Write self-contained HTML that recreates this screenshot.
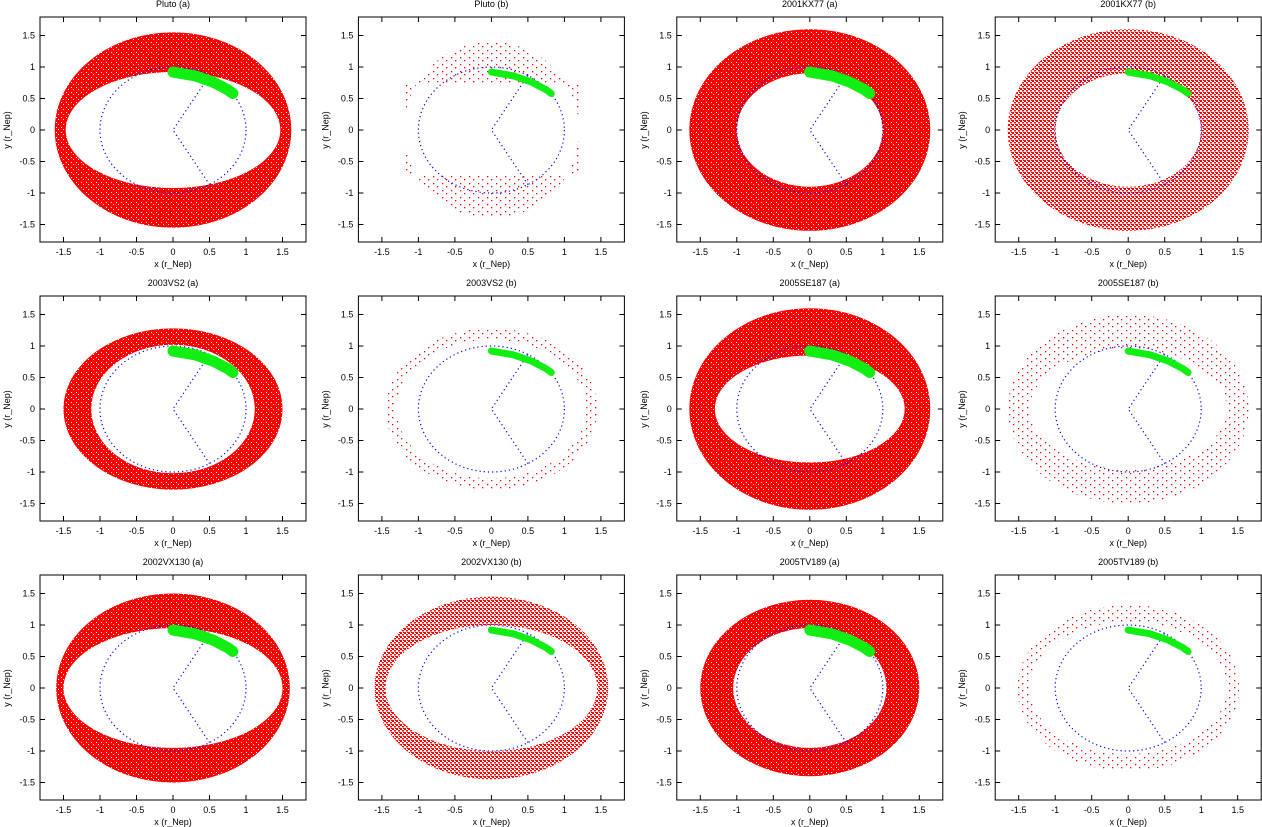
<!DOCTYPE html>
<html><head><meta charset="utf-8">
<style>
html,body{margin:0;padding:0;background:#fff;}
svg{display:block;font-family:"Liberation Sans",sans-serif;}
</style></head>
<body>
<svg id="chart" width="1262" height="827" viewBox="0 0 1262 827" xmlns="http://www.w3.org/2000/svg">
<defs>
<pattern id="sparse" width="9" height="7" patternUnits="userSpaceOnUse">
<rect x="1" y="1" width="1.3" height="1.3" fill="#f00"/><rect x="5" y="4" width="1.3" height="1.3" fill="#f00"/>
</pattern>
<pattern id="medium" width="4" height="4" patternUnits="userSpaceOnUse">
<rect x="0" y="0" width="2" height="2" fill="#f00"/><rect x="2" y="2" width="2" height="1.5" fill="#f00"/><rect x="3" y="0" width="1" height="1" fill="#f00"/>
</pattern>
<pattern id="dense" width="5" height="5" patternUnits="userSpaceOnUse">
<rect x="0" y="0" width="5" height="5" fill="#f00"/><rect x="1" y="2" width="1" height="1" fill="#fff"/><rect x="3" y="4" width="1" height="1" fill="#fff"/>
</pattern>
</defs>
</svg>
<script>
const titles=["Pluto (a)","Pluto (b)","2001KX77 (a)","2001KX77 (b)","2003VS2 (a)","2003VS2 (b)","2005SE187 (a)","2005SE187 (b)","2002VX130 (a)","2002VX130 (b)","2005TV189 (a)","2005TV189 (b)"];
const outerRx=[1.62,1.2,1.65,1.65,1.5,1.45,1.65,1.65,1.6,1.6,1.5,1.52];
const outerRy=[1.55,1.4,1.6,1.6,1.28,1.28,1.6,1.5,1.5,1.45,1.4,1.32];
const innerRx=[1.47,0.0,1.0,1.0,1.12,1.3,1.3,1.35,1.5,1.45,1.05,1.35];
const innerRy=[0.92,0.0,0.9,0.9,1.02,1.1,0.85,0.95,0.95,1.0,0.95,1.05];
const density=["dense","sparse","dense","medium","dense","sparse","dense","sparse","dense","medium","dense","sparse"];
const greenX=[0.0,0.3,0.55,0.75,0.82];
const greenY=[0.92,0.86,0.76,0.64,0.58];
const ticks=[-1.5,-1,-0.5,0,0.5,1,1.5];
const tickLabels=["-1.5","-1","-0.5","0","0.5","1","1.5"];
const NS="http://www.w3.org/2000/svg";
const svg=document.getElementById('chart');
function mk(t,a,p){const e=document.createElementNS(NS,t);for(const k in a)e.setAttribute(k,a[k]);(p||svg).appendChild(e);return e;}
for(let i=0;i<12;i++){
  const c=i%4,r=Math.floor(i/4);
  const cx=173+c*318.4, cy=130+r*279;
  const sx=v=>cx+v*73, sy=v=>cy-v*63;
  const g=mk('g',{});
  
  
  const ox=outerRx[i]*73,oy=outerRy[i]*63,ix=innerRx[i]*73,iy=innerRy[i]*63;
  let d=`M${cx-ox},${cy}a${ox},${oy} 0 1,0 ${2*ox},0a${ox},${oy} 0 1,0 ${-2*ox},0Z`;
  if(ix>0) d+=`M${cx-ix},${cy}a${ix},${iy} 0 1,0 ${2*ix},0a${ix},${iy} 0 1,0 ${-2*ix},0Z`;
  else d+=`M${cx-ox},${cy-0.75*63}L${cx+ox},${cy-0.75*63}L${cx+ox},${cy+0.7*63}L${cx-ox},${cy+0.7*63}Z`;
  const fill=density[i]=="dense"?"url(#dense)":(density[i]=="medium"?"url(#medium)":"url(#sparse)");
  const ring=mk('path',{d:d,'fill-rule':'evenodd',fill:fill},g);
  
  
  const circ=mk('ellipse',{cx:cx,cy:cy,rx:73,ry:63,fill:'none',stroke:'#00f','stroke-width':1.2,'stroke-dasharray':'1.2 3'},g);
  
  
  const ln=mk('polyline',{points:`${sx(0.5)},${sy(0.866)} ${sx(0)},${sy(0)} ${sx(0.5)},${sy(-0.866)}`,fill:'none',stroke:'#00f','stroke-width':1.2,'stroke-dasharray':'1.2 3'},g);
  
  
  let gp=greenX.map((v,k)=>sx(v)+','+sy(greenY[k])).join(' ');
  const gr=mk('polyline',{points:gp,fill:'none',stroke:'#1e1','stroke-width':(i%2==0?11:7),'stroke-linecap':'round','stroke-linejoin':'round'},g);
  
  
  const fr=mk('rect',{x:cx-133,y:cy-113,width:266,height:225,fill:'none',stroke:'#000','stroke-width':1},g);
  
  
  ticks.forEach((t,k)=>{
    mk('line',{x1:sx(t),x2:sx(t),y1:cy+112,y2:cy+107,stroke:'#000'},g);
    mk('line',{x1:sx(t),x2:sx(t),y1:cy-113,y2:cy-108,stroke:'#000'},g);
    mk('line',{x1:cx-133,x2:cx-128,y1:sy(t),y2:sy(t),stroke:'#000'},g);
    mk('line',{x1:cx+133,x2:cx+128,y1:sy(t),y2:sy(t),stroke:'#000'},g);
    const xl=mk('text',{x:sx(t),y:cy+125,'font-size':9,'text-anchor':'middle',fill:'#000'},g);
    xl.textContent=tickLabels[k];
    
    
    const yl=mk('text',{x:cx-138,y:sy(t)+3,'font-size':9,'text-anchor':'end',fill:'#000'},g);
    yl.textContent=tickLabels[k];
    
    
  });
  const xt=mk('text',{x:cx,y:cy+137,'font-size':9,'text-anchor':'middle'},g);
  xt.textContent='x (r_Nep)';
  
  
  const yt=mk('text',{x:0,y:0,'font-size':9,'text-anchor':'middle',transform:`translate(${cx-163},${cy}) rotate(-90)`},g);
  yt.textContent='y (r_Nep)';
  
  
  const tt=mk('text',{x:cx,y:cy-123,'font-size':9,'text-anchor':'middle'},g);
  tt.textContent=titles[i];
  
  
}
</script>
</body></html>
